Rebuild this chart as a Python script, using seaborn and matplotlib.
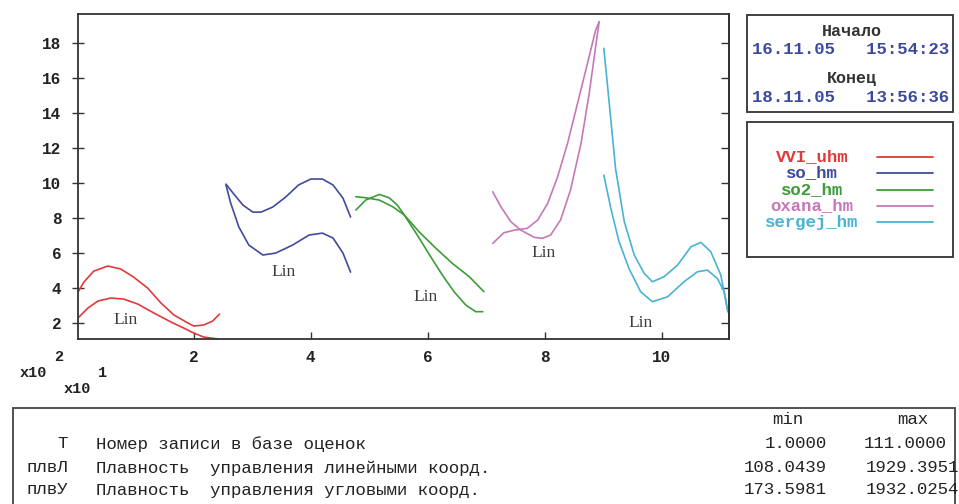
import matplotlib
matplotlib.use('Agg')
import matplotlib.pyplot as plt
import matplotlib.patches as patches
import pandas as pd
import seaborn as sns

# Curves (x in units of x10^1, y in units of x10^2)
vvi_x1 = [0.02, 0.12, 0.29, 0.53, 0.75, 0.97, 1.21, 1.44, 1.66, 1.90, 2.00, 2.17, 2.32, 2.44]
vvi_y1 = [3.77, 4.34, 4.97, 5.26, 5.09, 4.63, 4.00, 3.14, 2.46, 2.00, 1.83, 1.89, 2.11, 2.51]
vvi_x2 = [0.02, 0.19, 0.36, 0.58, 0.80, 1.04, 1.32, 1.61, 1.83, 2.00, 2.17, 2.41]
vvi_y2 = [2.29, 2.86, 3.26, 3.43, 3.37, 3.09, 2.57, 2.06, 1.71, 1.43, 1.20, 1.09]

so_x1 = [2.55, 2.67, 2.84, 3.01, 3.15, 3.35, 3.57, 3.79, 4.00, 4.20, 4.38, 4.55, 4.68]
so_y1 = [9.94, 9.43, 8.74, 8.34, 8.34, 8.63, 9.20, 9.89, 10.23, 10.23, 9.89, 9.14, 8.06]
so_x2 = [2.55, 2.63, 2.77, 2.94, 3.18, 3.40, 3.69, 3.97, 4.20, 4.38, 4.55, 4.68]
so_y2 = [9.89, 8.86, 7.49, 6.46, 5.89, 6.00, 6.46, 7.03, 7.14, 6.86, 6.00, 4.91]

so2_x1 = [4.77, 4.94, 5.17, 5.40, 5.60, 5.82, 6.05, 6.25, 6.45, 6.65, 6.82, 6.94]
so2_y1 = [9.22, 9.16, 9.03, 8.65, 8.17, 7.03, 5.79, 4.74, 3.79, 3.03, 2.65, 2.65]
so2_x2 = [4.77, 4.94, 5.17, 5.34, 5.48, 5.60, 5.85, 6.14, 6.42, 6.71, 6.96]
so2_y2 = [8.46, 9.03, 9.35, 9.16, 8.74, 8.17, 7.22, 6.27, 5.41, 4.65, 3.79]

oxana_x1 = [7.11, 7.25, 7.42, 7.59, 7.82, 7.96, 8.10, 8.27, 8.44, 8.62, 8.76, 8.87, 8.93]
oxana_y1 = [9.50, 8.65, 7.79, 7.31, 6.90, 6.84, 7.03, 7.89, 9.60, 12.27, 15.12, 17.79, 19.22]
oxana_x2 = [7.11, 7.30, 7.48, 7.70, 7.88, 8.05, 8.22, 8.39, 8.56, 8.73, 8.87, 8.93]
oxana_y2 = [6.55, 7.16, 7.31, 7.41, 7.89, 8.84, 10.36, 12.27, 14.55, 16.84, 18.74, 19.22]

sergej_x1 = [9.01, 9.10, 9.21, 9.36, 9.53, 9.70, 9.84, 10.04, 10.27, 10.50, 10.67, 10.84, 11.01, 11.13]
sergej_y1 = [17.70, 14.65, 10.84, 7.79, 5.89, 4.84, 4.36, 4.65, 5.31, 6.36, 6.61, 6.07, 4.74, 2.65]
sergej_x2 = [9.01, 9.13, 9.27, 9.44, 9.64, 9.84, 10.10, 10.38, 10.61, 10.78, 10.95, 11.07, 11.13]
sergej_y2 = [10.46, 8.55, 6.65, 5.12, 3.79, 3.22, 3.50, 4.36, 4.93, 5.03, 4.55, 3.79, 2.65]

series_names = ['VVI_uhm', 'so_hm', 'so2_hm', 'oxana_hm', 'sergej_hm']
series_colors = ['#e23a3a', '#3f4c9e', '#3c9c38', '#c679b6', '#4ab3d3']

lin_x = [0.84, 3.54, 5.97, 7.98, 9.64]
lin_y = [2.17, 4.91, 3.49, 6.00, 2.00]

x_ticks = [2, 4, 6, 8, 10]
y_ticks = [2, 4, 6, 8, 10, 12, 14, 16, 18]

start_date = '16.11.05   15:54:23'
end_date = '18.11.05   13:56:36'

table_codes = ['T', 'плвЛ', 'плвУ']
table_names = ['Номер записи в базе оценок',
               'Плавность  управления линейными коорд.',
               'Плавность  управления угловыми коорд.']
table_min = ['1.0000', '108.0439', '173.5981']
table_max = ['111.0000', '1929.3951', '1932.0254']

curves = [
    (vvi_x1, vvi_y1, 0), (vvi_x2, vvi_y2, 0),
    (so_x1, so_y1, 1), (so_x2, so_y2, 1),
    (so2_x1, so2_y1, 2), (so2_x2, so2_y2, 2),
    (oxana_x1, oxana_y1, 3), (oxana_x2, oxana_y2, 3),
    (sergej_x1, sergej_y1, 4), (sergej_x2, sergej_y2, 4),
]

sns.set_theme(style='white')
plt.rcParams['font.family'] = ['Liberation Mono', 'DejaVu Sans']

W, H = 959, 504
fig = plt.figure(figsize=(W / 100, H / 100), dpi=100)


def fx(px):
    return px / W


def fy(py):
    return 1 - py / H


ax = fig.add_axes([fx(78), fy(339), (729 - 78) / W, (339 - 14) / H])

for xs, ys, ci in curves:
    df = pd.DataFrame({'x': xs, 'y': ys})
    sns.lineplot(data=df, x='x', y='y', color=series_colors[ci], lw=1.2,
                 sort=False, estimator=None, ax=ax)

for lx, ly in zip(lin_x, lin_y):
    ax.text(lx, ly, 'Lin', family='Liberation Serif', fontsize=12.5,
            color='#3a3a3a', ha='center', va='center')

ax.set_xlim(0.02, 11.15)
ax.set_ylim(1.09, 19.66)
ax.set_xticks(x_ticks)
ax.set_yticks(y_ticks)
ax.set_xlabel('')
ax.set_ylabel('')
ax.tick_params(axis='both', direction='in', length=5, width=1, color='#333333',
               labelsize=11.5, labelcolor='#222222', pad=8)
ax.tick_params(axis='y', left=True, direction='inout', length=8)
ax.tick_params(axis='x', bottom=True)
for lab in ax.get_xticklabels() + ax.get_yticklabels():
    lab.set_fontweight('bold')
for sp in ax.spines.values():
    sp.set_color('#333333')
    sp.set_linewidth(1.3)

# inward ticks on the right side, no labels
sec = ax.secondary_yaxis('right')
sec.set_yticks(y_ticks)
sec.tick_params(direction='in', length=6, width=1, color='#333333', labelright=False)
sec.spines['right'].set_color('#333333')
sec.spines['right'].set_linewidth(1.3)

# axis multiplier labels
fig.text(fx(20), fy(373), 'x10', fontsize=11, fontweight='bold', color='#222222', va='center')
fig.text(fx(54), fy(357), '2', fontsize=11, fontweight='bold', color='#222222', va='center')
fig.text(fx(64), fy(389), 'x10', fontsize=11, fontweight='bold', color='#222222', va='center')
fig.text(fx(98), fy(373), '1', fontsize=11, fontweight='bold', color='#222222', va='center')

# start / end box
fig.patches.append(patches.Rectangle((fx(747), fy(112)), (953 - 747) / W, (112 - 15) / H,
                                     transform=fig.transFigure, fill=False,
                                     edgecolor='#333333', lw=1.3))
fig.text(fx(852), fy(32), 'Начало', fontsize=12, fontweight='bold', color='#333333',
         ha='center', va='center')
fig.text(fx(851), fy(50), start_date, fontsize=12.5, fontweight='bold', color='#3c4a9c',
         ha='center', va='center')
fig.text(fx(852), fy(79), 'Конец', fontsize=12, fontweight='bold', color='#333333',
         ha='center', va='center')
fig.text(fx(851), fy(98), end_date, fontsize=12.5, fontweight='bold', color='#3c4a9c',
         ha='center', va='center')

# legend box
fig.patches.append(patches.Rectangle((fx(747), fy(257)), (953 - 747) / W, (257 - 122) / H,
                                     transform=fig.transFigure, fill=False,
                                     edgecolor='#333333', lw=1.3))
leg_rows = [157, 173, 190, 206, 222]
for name, col, py in zip(series_names, series_colors, leg_rows):
    fig.text(fx(812), fy(py), name, fontsize=12.5, fontweight='bold', color=col,
             ha='center', va='center')
    fig.add_artist(plt.Line2D([fx(877), fx(933)], [fy(py), fy(py)], color=col, lw=1.3,
                              transform=fig.transFigure))

# table box
fig.patches.append(patches.Rectangle((fx(13), fy(520)), (955 - 13) / W, (520 - 408) / H,
                                     transform=fig.transFigure, fill=False,
                                     edgecolor='#444444', lw=1.3))
fig.text(fx(788), fy(420), 'min', fontsize=12.5, color='#222222', ha='center', va='center')
fig.text(fx(913), fy(420), 'max', fontsize=12.5, color='#222222', ha='center', va='center')
row_y = [444, 468, 490]
max_right = [947, 959, 959]
for code, name, vmin, vmax, py, mr in zip(table_codes, table_names, table_min, table_max,
                                           row_y, max_right):
    fig.text(fx(68), fy(py), code, fontsize=12.5, color='#222222', ha='right', va='center')
    fig.text(fx(96), fy(py), name, fontsize=12.5, color='#222222', ha='left', va='center')
    fig.text(fx(827), fy(py), vmin, fontsize=12.5, color='#222222', ha='right', va='center')
    fig.text(fx(mr), fy(py), vmax, fontsize=12.5, color='#222222', ha='right', va='center')

fig.savefig('out.png', dpi=100)
